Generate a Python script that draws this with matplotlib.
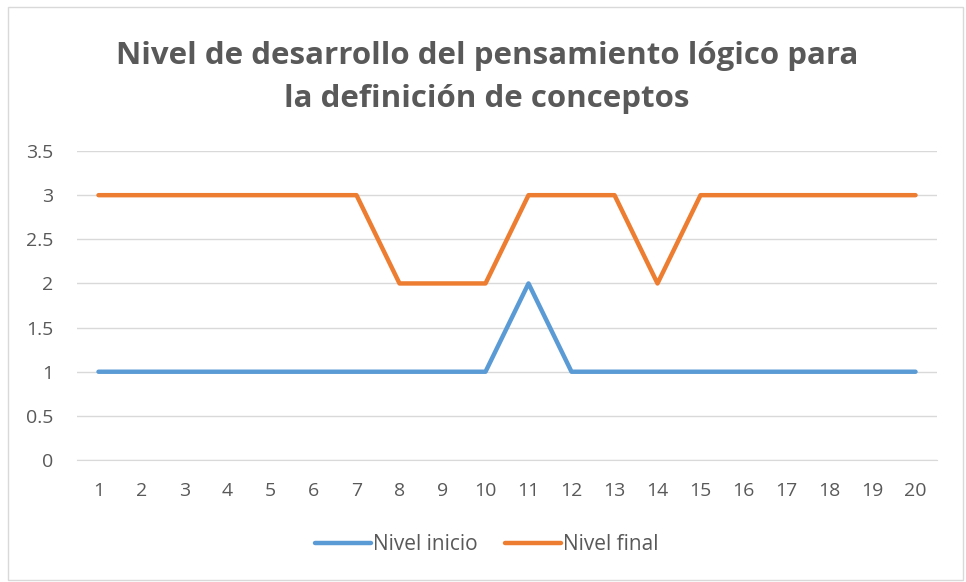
import matplotlib.pyplot as plt
from matplotlib.patches import Rectangle

# Data
estudiantes = list(range(1, 21))
nivel_inicio = [1, 1, 1, 1, 1, 1, 1, 1, 1, 1, 2, 1, 1, 1, 1, 1, 1, 1, 1, 1]
nivel_final = [3, 3, 3, 3, 3, 3, 3, 2, 2, 2, 3, 3, 3, 2, 3, 3, 3, 3, 3, 3]
y_ticks = [0, 0.5, 1, 1.5, 2, 2.5, 3, 3.5]
y_labels = ["0", "0.5", "1", "1.5", "2", "2.5", "3", "3.5"]

gray = "#595959"
plt.rcParams["font.family"] = ["Open Sans", "DejaVu Sans"]

fig = plt.figure(figsize=(9.66, 5.82), dpi=100)
fig.patches.append(Rectangle((0.008, 0.004), 0.989, 0.984, transform=fig.transFigure,
                             fill=False, edgecolor="#D9D9D9", linewidth=1))

ax = fig.add_axes([0.0797, 0.2096, 0.8903, 0.5309])

ax.plot(estudiantes, nivel_inicio, color="#5B9BD5", linewidth=3.2,
        solid_capstyle="round", solid_joinstyle="round", label="Nivel inicio")
ax.plot(estudiantes, nivel_final, color="#ED7D31", linewidth=3.2,
        solid_capstyle="round", solid_joinstyle="round", label="Nivel final")

ax.set_xlim(0.5, 20.5)
ax.set_ylim(0, 3.5)
ax.set_xticks(estudiantes)
ax.set_yticks(y_ticks)
ax.set_yticklabels(y_labels)
ax.grid(axis="y", color="#D9D9D9", linewidth=1)
ax.set_axisbelow(True)
for s in ["top", "right", "left"]:
    ax.spines[s].set_visible(False)
ax.spines["bottom"].set_color("#D9D9D9")
ax.tick_params(axis="both", length=0, labelsize=14, colors=gray)
ax.tick_params(axis="x", pad=16)
ax.tick_params(axis="y", pad=17)

fig.text(0.504, 0.867, "Nivel de desarrollo del pensamiento lógico para\nla definición de conceptos",
         ha="center", va="center", fontsize=22.5, fontweight="bold", color=gray,
         linespacing=1.58)

leg = fig.legend(loc="center", bbox_to_anchor=(0.504, 0.064), ncol=2, frameon=False,
                 fontsize=15, handlelength=2.7, handletextpad=0.1, columnspacing=1.3)
for t in leg.get_texts():
    t.set_color(gray)

fig.savefig("out.png", dpi=100)
